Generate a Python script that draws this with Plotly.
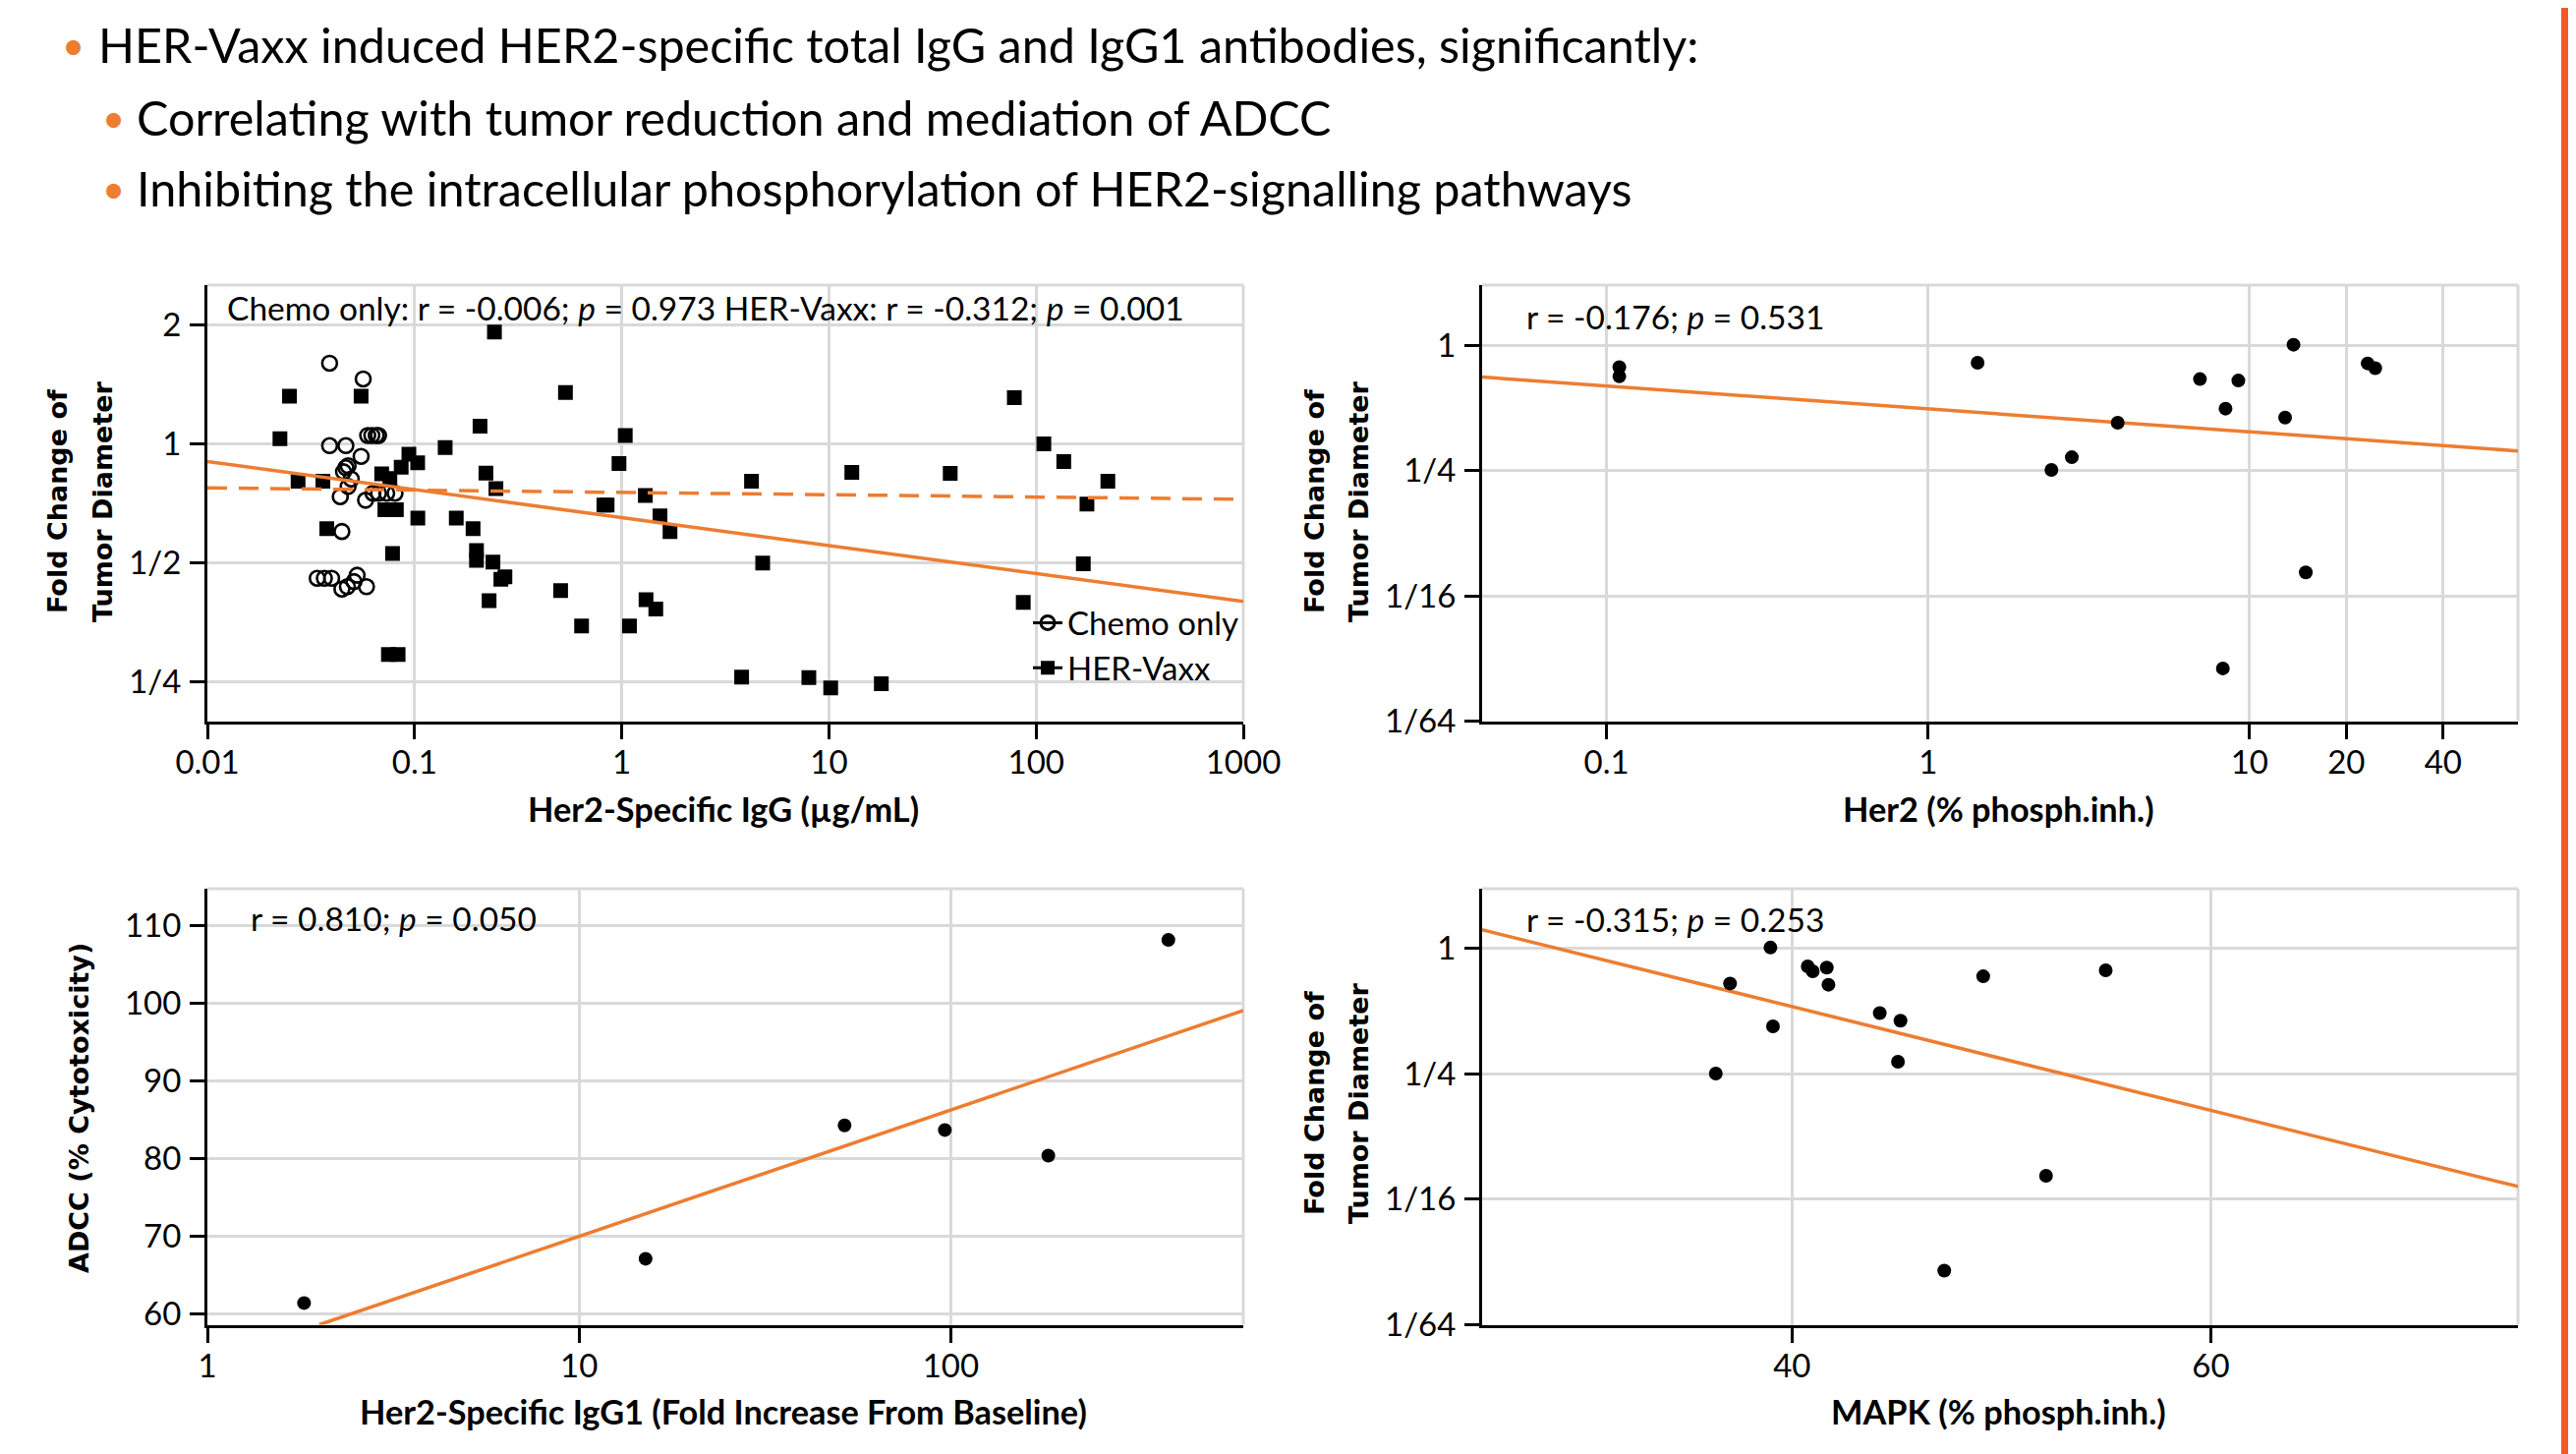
import plotly.graph_objects as go

# ---------------- data ----------------
# Panel A: HER2-specific IgG vs fold change of tumour diameter
chemo_igg = [0.0389, 0.0565, 0.0594, 0.0622, 0.0653, 0.067, 0.0389, 0.0466, 0.0552, 0.0466,
             0.0478, 0.0454, 0.0495, 0.0478, 0.0438, 0.058, 0.063, 0.067, 0.0734, 0.0805,
             0.0446, 0.0339, 0.0367, 0.0398, 0.0528, 0.051, 0.0474, 0.0446, 0.0586]
chemo_fc = [1.60, 1.46, 1.05, 1.05, 1.05, 1.05, 0.99, 0.99, 0.93, 0.87,
            0.88, 0.85, 0.815, 0.78, 0.735, 0.72, 0.75, 0.75, 0.75, 0.75,
            0.60, 0.457, 0.457, 0.457, 0.465, 0.448, 0.435, 0.429, 0.435]
her_igg = [0.243, 0.0249, 0.0552, 0.535, 78.5, 0.207, 0.0224, 1.04, 109, 0.1405,
           0.0939, 0.1035, 0.97, 136, 0.0862, 12.9, 38.5, 0.221, 0.0694, 0.076,
           0.0274, 0.0361, 4.23, 222, 0.247, 1.3, 176, 0.85, 0.82, 0.0719,
           0.0817, 1.53, 0.1037, 0.159, 0.1916, 1.71, 0.0377, 0.199, 0.199, 0.239,
           0.0783, 4.79, 169, 0.273, 0.261, 0.507, 0.229, 1.31, 1.46, 86.7,
           0.64, 1.09, 0.0748, 0.0833, 3.79, 8.0, 10.2, 17.9]
her_fc = [1.92, 1.32, 1.32, 1.35, 1.31, 1.108, 1.03, 1.05, 1.0, 0.979,
          0.942, 0.895, 0.892, 0.902, 0.873, 0.847, 0.842, 0.843, 0.84, 0.817,
          0.804, 0.804, 0.804, 0.804, 0.771, 0.74, 0.704, 0.70, 0.70, 0.681,
          0.681, 0.657, 0.649, 0.649, 0.61, 0.60, 0.61, 0.537, 0.507, 0.502,
          0.528, 0.499, 0.497, 0.461, 0.454, 0.425, 0.401, 0.403, 0.382, 0.397,
          0.346, 0.346, 0.293, 0.293, 0.257, 0.256, 0.241, 0.247]
fitA_x = [0.01, 1000]
fitA_her = [0.902, 0.399]
fitA_chemo = [0.774, 0.724]

# Panel B: HER2 % phosphorylation inhibition
her2_inh = [0.1096, 0.1096, 1.426, 3.89, 2.8, 2.42, 7.01, 9.23, 8.42, 12.9,
            13.7, 23.3, 24.6, 14.96, 8.26]
her2_fc = [0.786, 0.71, 0.826, 0.425, 0.29, 0.252, 0.689, 0.678, 0.497, 0.45,
           1.008, 0.82, 0.777, 0.081, 0.028]
fitB_x = [0.041, 68.4]
fitB_y = [0.705, 0.311]

# Panel C: IgG1 fold increase vs ADCC
igg1_fold = [1.82, 15.1, 51.8, 96.4, 183, 385]
adcc = [61.4, 67.1, 84.3, 83.7, 80.4, 108.2]
fitC_x = [2.0, 612]
fitC_y = [58.6, 99.1]

# Panel D: MAPK % phosphorylation inhibition
mapk_inh = [38.97, 37.04, 36.36, 39.09, 40.75, 40.99, 41.66, 41.74, 44.19, 45.18,
            45.06, 49.13, 54.98, 52.13, 47.27]
mapk_fc = [1.01, 0.679, 0.251, 0.423, 0.82, 0.777, 0.81, 0.67, 0.49, 0.45,
           0.286, 0.735, 0.786, 0.081, 0.0284]
fitD_x = [25.2, 74.67]
fitD_y = [1.23, 0.072]

# ticks
ticksA_x = [0.01, 0.1, 1, 10, 100, 1000]
ticksA_xt = ["0.01", "0.1", "1", "10", "100", "1000"]
ticksA_y = [0.25, 0.5, 1, 2]
ticksA_yt = ["1/4", "1/2", "1", "2"]
ticksB_x = [0.1, 1, 10, 20, 40]
ticksB_xt = ["0.1", "1", "10", "20", "40"]
ticksBD_y = [1 / 64, 1 / 16, 0.25, 1]
ticksBD_yt = ["1/64", "1/16", "1/4", "1"]
ticksC_x = [1, 10, 100]
ticksC_xt = ["1", "10", "100"]
ticksC_y = [60, 70, 80, 90, 100, 110]
ticksD_x = [40, 60]

# ---------------- styling ----------------
OFF = 8                      # page body margin
W, H = 2621 - OFF, 1479 - OFF
FONT = "Lato"
TITLE_FONT = "DejaVu Sans"
ORANGE = "#ED7D31"
GRID = "#D9D9D9"


def px_x(v):
    return (v - OFF) / W


def px_y(v):
    return 1 - (v - OFF) / H


X_LEFT = [px_x(211), px_x(1265)]
X_RIGHT = [px_x(1508), px_x(2562)]
Y_TOP = [px_y(733.5), px_y(290)]
Y_BOT = [px_y(1347.5), px_y(904)]

fig = go.Figure()

# Panel A
fig.add_trace(go.Scatter(x=chemo_igg, y=chemo_fc, mode="markers", xaxis="x", yaxis="y",
                         marker=dict(symbol="circle-open", size=15, color="black",
                                     line=dict(width=2.6, color="black")),
                         showlegend=False))
fig.add_trace(go.Scatter(x=her_igg, y=her_fc, mode="markers", xaxis="x", yaxis="y",
                         marker=dict(symbol="square", size=15, color="black"),
                         showlegend=False))
fig.add_trace(go.Scatter(x=fitA_x, y=fitA_chemo, mode="lines", xaxis="x", yaxis="y",
                         line=dict(color=ORANGE, width=3.5, dash="20px,12px"), showlegend=False))
fig.add_trace(go.Scatter(x=fitA_x, y=fitA_her, mode="lines", xaxis="x", yaxis="y",
                         line=dict(color=ORANGE, width=3.5), showlegend=False))
# legend entries
fig.add_trace(go.Scatter(x=[None], y=[None], mode="lines+markers", xaxis="x", yaxis="y",
                         name="Chemo only",
                         marker=dict(symbol="circle-open", size=14, color="black",
                                     line=dict(width=3, color="black")),
                         line=dict(color="black", width=3)))
fig.add_trace(go.Scatter(x=[None], y=[None], mode="lines+markers", xaxis="x", yaxis="y",
                         name="HER-Vaxx",
                         marker=dict(symbol="square", size=14, color="black"),
                         line=dict(color="black", width=3)))

# Panel B
fig.add_trace(go.Scatter(x=fitB_x, y=fitB_y, mode="lines", xaxis="x2", yaxis="y2",
                         line=dict(color=ORANGE, width=3.5), showlegend=False))
fig.add_trace(go.Scatter(x=her2_inh, y=her2_fc, mode="markers", xaxis="x2", yaxis="y2",
                         marker=dict(symbol="circle", size=14, color="black"), showlegend=False))

# Panel C
fig.add_trace(go.Scatter(x=fitC_x, y=fitC_y, mode="lines", xaxis="x3", yaxis="y3",
                         line=dict(color=ORANGE, width=3.5), showlegend=False))
fig.add_trace(go.Scatter(x=igg1_fold, y=adcc, mode="markers", xaxis="x3", yaxis="y3",
                         marker=dict(symbol="circle", size=14, color="black"), showlegend=False))

# Panel D
fig.add_trace(go.Scatter(x=fitD_x, y=fitD_y, mode="lines", xaxis="x4", yaxis="y4",
                         line=dict(color=ORANGE, width=3.5), showlegend=False))
fig.add_trace(go.Scatter(x=mapk_inh, y=mapk_fc, mode="markers", xaxis="x4", yaxis="y4",
                         marker=dict(symbol="circle", size=14, color="black"), showlegend=False))

tickfont = dict(family=FONT, size=33, color="black")
base = dict(showline=True, linecolor="black", linewidth=3, ticks="outside", ticklen=15,
            tickwidth=3, tickcolor="black", showgrid=True, gridcolor=GRID, gridwidth=3,
            zeroline=False, tickfont=tickfont, tickmode="array", automargin=False)
bx = dict(base, ticklabelstandoff=-4)
by = dict(base, ticklabelstandoff=2)

fig.update_layout(
    width=W, height=H, autosize=False,
    margin=dict(l=0, r=0, t=0, b=0, pad=0, autoexpand=False),
    paper_bgcolor="white", plot_bgcolor="white",
    font=dict(family=FONT, color="black"),
    xaxis=dict(bx, type="log", range=[-2, 3], domain=X_LEFT, anchor="y",
               tickvals=ticksA_x, ticktext=ticksA_xt),
    yaxis=dict(by, type="log", range=[-0.7017, 0.4019], domain=Y_TOP, anchor="x",
               tickvals=ticksA_y, ticktext=ticksA_yt),
    xaxis2=dict(bx, type="log", range=[-1.387, 1.835], domain=X_RIGHT, anchor="y2",
                tickvals=ticksB_x, ticktext=ticksB_xt),
    yaxis2=dict(by, type="log", range=[-1.8062, 0.2902], domain=Y_TOP, anchor="x2",
                tickvals=ticksBD_y, ticktext=ticksBD_yt),
    xaxis3=dict(bx, type="log", range=[0, 2.787], domain=X_LEFT, anchor="y3",
                tickvals=ticksC_x, ticktext=ticksC_xt),
    yaxis3=dict(by, type="linear", range=[58.6, 114.8], domain=Y_BOT, anchor="x3",
                tickvals=ticksC_y),
    xaxis4=dict(bx, type="linear", range=[25.2, 74.67], domain=X_RIGHT, anchor="y4",
                tickvals=ticksD_x),
    yaxis4=dict(by, type="log", range=[-1.8062, 0.2869], domain=Y_BOT, anchor="x4",
                tickvals=ticksBD_y, ticktext=ticksBD_yt),
    legend=dict(x=px_x(1046), y=px_y(656.5), xanchor="left", yanchor="middle",
                bgcolor="rgba(0,0,0,0)", borderwidth=0, itemwidth=30, tracegroupgap=0,
                font=dict(family=FONT, size=33, color="black")),
)

shapes = []
for xr, yr in [("x", "y"), ("x2", "y2"), ("x3", "y3"), ("x4", "y4")]:
    shapes.append(dict(type="line", xref=f"{xr} domain", yref=f"{yr} domain",
                       x0=0, x1=1, y0=1, y1=1, line=dict(color=GRID, width=3), layer="below"))
    shapes.append(dict(type="line", xref=f"{xr} domain", yref=f"{yr} domain",
                       x0=1, x1=1, y0=0, y1=1, line=dict(color=GRID, width=3), layer="below"))
shapes.append(dict(type="rect", xref="paper", yref="paper", x0=px_x(2606), x1=1, y0=0, y1=1,
                   fillcolor="#F05A28", line=dict(width=0), layer="above"))
fig.update_layout(shapes=shapes)

ann = []


def text(x, y, s, size, family=FONT, xanchor="left", angle=0, color="black", bold=False):
    if bold:
        s = f"<b>{s}</b>"
    ann.append(dict(x=px_x(x), y=px_y(y), xref="paper", yref="paper", text=s, showarrow=False,
                    xanchor=xanchor, yanchor="middle", textangle=angle,
                    font=dict(family=family, size=size, color=color)))


# header bullets
text(74, 46, "•", 40, color=ORANGE, xanchor="center")
text(98, 45, "HER-Vaxx induced HER2-specific total IgG and IgG1 antibodies, significantly:", 48.5)
text(115, 120, "•", 40, color=ORANGE, xanchor="center")
text(137, 119, "Correlating with tumor reduction and mediation of ADCC", 48.5)
text(115, 192, "•", 40, color=ORANGE, xanchor="center")
text(137, 191, "Inhibiting the intracellular phosphorylation of HER2-signalling pathways", 48.5)

# statistics
text(229, 313, "Chemo only: r = -0.006; <i>p</i> = 0.973 HER-Vaxx: r = -0.312; <i>p</i> = 0.001", 33.5)
text(1551, 322, "r = -0.176; <i>p</i> = 0.531", 33.5)
text(253, 934, "r = 0.810; <i>p</i> = 0.050", 33.5)
text(1551, 935, "r = -0.315; <i>p</i> = 0.253", 33.5)

# x titles
text(736, 822, "Her2-Specific IgG (µg/mL)", 34.3, xanchor="center", bold=True)
text(2033, 822, "Her2 (% phosph.inh.)", 34.3, xanchor="center", bold=True)
text(736, 1435, "Her2-Specific IgG1 (Fold Increase From Baseline)", 34.3, xanchor="center", bold=True)
text(2033, 1435, "MAPK (% phosph.inh.)", 34.3, xanchor="center", bold=True)

# y titles
for x1, x2, yc in [(58, 104, 510), (1337, 1382, 510), (1337, 1382, 1122)]:
    text(x1, yc, "Fold Change of", 27, family=TITLE_FONT, xanchor="center", angle=-90, bold=True)
    text(x2, yc, "Tumor Diameter", 27, family=TITLE_FONT, xanchor="center", angle=-90, bold=True)
text(80, 1127, "ADCC (% Cytotoxicity)", 27, family=TITLE_FONT, xanchor="center", angle=-90, bold=True)

fig.update_layout(annotations=ann)

fig.write_html("out.html")
